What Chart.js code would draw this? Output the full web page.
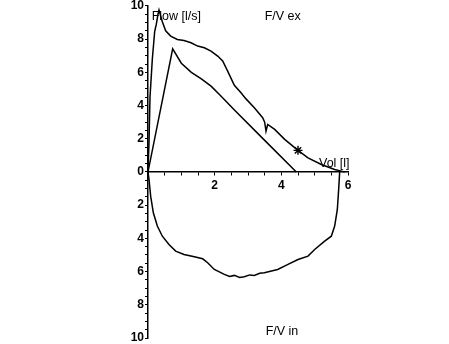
<!DOCTYPE html>
<html>
<head>
<meta charset="utf-8">
<title>Flow-volume loop</title>
<script src="https://cdn.jsdelivr.net/npm/chart.js@4.4.1/dist/chart.umd.min.js"></script>
<style>
  html, body { margin: 0; padding: 0; background: #fff; }
  canvas { display: block; }
</style>
</head>
<body>
<canvas id="loopChart" width="449" height="344"></canvas>
<script>
// Expiration, measured (volume l, flow l/s)
const exVol  = [0, 0.03, 0.06, 0.13, 0.2, 0.25, 0.3, 0.33, 0.38, 0.43, 0.53, 0.68, 0.88, 1.08, 1.29, 1.49, 1.69, 1.89, 2.09, 2.24, 2.39, 2.59, 2.79, 2.94, 3.19, 3.44, 3.5, 3.54, 3.59, 3.8, 4.1, 4.5, 4.8, 5.2, 5.6, 5.8, 5.9];
const exFlow = [0, 1.8, 4.5, 6.8, 8.45, 8.9, 9.5, 9.75, 9.4, 9.05, 8.5, 8.18, 7.98, 7.92, 7.78, 7.58, 7.48, 7.28, 6.98, 6.68, 6.07, 5.22, 4.77, 4.4, 3.87, 3.27, 3.0, 2.46, 2.86, 2.56, 1.96, 1.3, 0.85, 0.45, 0.15, 0.05, 0];

// Expiration, predicted
const predVol  = [0, 0.74, 1.0, 1.3, 1.6, 1.9, 2.15, 2.6, 3.5, 4.45];
const predFlow = [0, 7.42, 6.55, 6.0, 5.6, 5.15, 4.65, 3.72, 1.9, 0];

// Inspiration, measured (drawn below the axis)
const inVol  = [0, 0.03, 0.08, 0.16, 0.28, 0.43, 0.63, 0.83, 1.08, 1.39, 1.64, 1.79, 1.99, 2.29, 2.45, 2.59, 2.75, 2.89, 3.05, 3.19, 3.35, 3.49, 3.89, 4.2, 4.5, 4.8, 5.0, 5.3, 5.5, 5.6, 5.68, 5.72, 5.75];
const inFlow = [0, -0.45, -1.46, -2.46, -3.26, -3.87, -4.37, -4.77, -4.97, -5.11, -5.23, -5.47, -5.87, -6.17, -6.3, -6.23, -6.35, -6.31, -6.2, -6.23, -6.1, -6.07, -5.87, -5.57, -5.27, -5.07, -4.67, -4.17, -3.87, -3.26, -2.26, -1.05, 0];

// PEF-ish marker
const markVol  = [4.5];
const markFlow = [1.3];

// tick labels
const xLabels = [2, 4, 6];
const yLabels = [-10, -8, -6, -4, -2, 0, 2, 4, 6, 8, 10];

// text labels on the plot
const notes = [
  { text: 'Flow [l/s]', x: 0.11, y: 9.36 },
  { text: 'F/V ex', x: 3.5, y: 9.36 },
  { text: 'Vol [l]', x: 5.13, y: 0.5 },
  { text: 'F/V in', x: 3.53, y: -9.6 }
];

const toPoints = (xs, ys) => xs.map((x, i) => ({ x: x, y: ys[i] }));

Chart.defaults.font.family = '"Liberation Sans", Arial, sans-serif';
Chart.defaults.font.size = 12;
Chart.defaults.color = '#000';

const notesPlugin = {
  id: 'notes',
  afterDraw(chart) {
    const ctx = chart.ctx;
    const xs = chart.scales.x;
    const ys = chart.scales.y;
    ctx.save();
    ctx.fillStyle = '#000';
    ctx.font = '12.5px "Liberation Sans", Arial, sans-serif';
    ctx.textAlign = 'left';
    ctx.textBaseline = 'middle';
    notes.forEach(n => {
      ctx.fillText(n.text, xs.getPixelForValue(n.x), ys.getPixelForValue(n.y));
    });
    ctx.restore();
  }
};

const lineStyle = {
  showLine: true,
  borderColor: '#000',
  borderWidth: 1.5,
  pointRadius: 0,
  tension: 0,
  fill: false
};

new Chart(document.getElementById('loopChart'), {
  type: 'scatter',
  data: {
    datasets: [
      Object.assign({ label: 'Expiration', data: toPoints(exVol, exFlow) }, lineStyle),
      Object.assign({ label: 'Predicted', data: toPoints(predVol, predFlow) }, lineStyle),
      Object.assign({ label: 'Inspiration', data: toPoints(inVol, inFlow) }, lineStyle),
      {
        label: 'Marker',
        data: toPoints(markVol, markFlow),
        showLine: false,
        pointStyle: 'star',
        pointRadius: 4.5,
        borderColor: '#000',
        backgroundColor: '#000',
        borderWidth: 1.4
      }
    ]
  },
  options: {
    responsive: false,
    animation: false,
    layout: { padding: { left: 0, right: 101, top: 5, bottom: 6 } },
    plugins: {
      legend: { display: false },
      tooltip: { enabled: false }
    },
    scales: {
      x: {
        type: 'linear',
        min: 0,
        max: 6,
        position: { y: 0 },
        border: { display: true, color: '#000', width: 1.5 },
        grid: { display: true, drawOnChartArea: false, drawTicks: true, tickLength: 3, color: '#000', lineWidth: 1 },
        ticks: {
          stepSize: 0.5,
          padding: 4,
          maxRotation: 0,
          autoSkip: false,
          font: { size: 12, weight: 'bold' },
          callback: v => (xLabels.includes(v) ? String(v) : '')
        }
      },
      y: {
        type: 'linear',
        min: -10,
        max: 10,
        border: { display: true, color: '#000', width: 1.5 },
        grid: { display: true, drawOnChartArea: false, drawTicks: true, tickLength: 3, color: '#000', lineWidth: 1 },
        ticks: {
          stepSize: 0.5,
          padding: 1,
          autoSkip: false,
          font: { size: 12, weight: 'bold' },
          callback: v => (yLabels.includes(v) ? String(Math.abs(v)) : '')
        },
        afterFit(scale) {
          scale.width = 148;
          scale.paddingTop = 0;
          scale.paddingBottom = 0;
        }
      }
    }
  },
  plugins: [notesPlugin]
});
</script>
</body>
</html>
